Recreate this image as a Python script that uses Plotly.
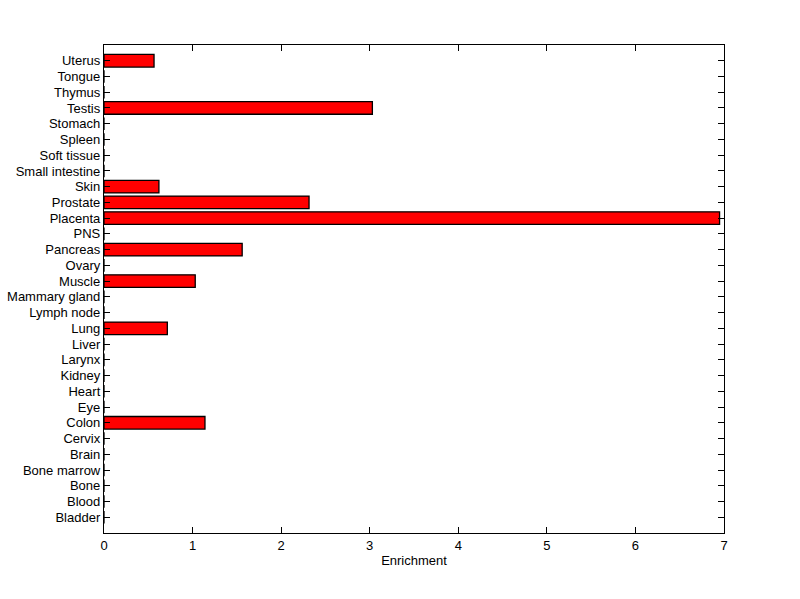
import plotly.graph_objects as go

tissues = ["Bladder", "Blood", "Bone", "Bone marrow", "Brain", "Cervix", "Colon", "Eye",
           "Heart", "Kidney", "Larynx", "Liver", "Lung", "Lymph node", "Mammary gland",
           "Muscle", "Ovary", "Pancreas", "PNS", "Placenta", "Prostate", "Skin",
           "Small intestine", "Soft tissue", "Spleen", "Stomach", "Testis", "Thymus",
           "Tongue", "Uterus"]
enrichment = [0, 0, 0, 0, 0, 0, 1.14, 0,
              0, 0, 0, 0, 0.715, 0, 0,
              1.03, 0, 1.56, 0, 6.95, 2.315, 0.62,
              0, 0, 0, 0, 3.03, 0,
              0, 0.565]
positions = list(range(1, len(tissues) + 1))
xticks = [0, 1, 2, 3, 4, 5, 6, 7]

fig = go.Figure(go.Bar(
    x=enrichment, y=positions, orientation="h", width=0.8,
    marker=dict(color="#ff0000", line=dict(color="black", width=1.3)),
))

font = dict(family="Liberation Sans, Arial, sans-serif", size=13, color="black")
fig.update_layout(
    width=800, height=599,
    margin=dict(l=104, r=76, t=45, b=66),
    paper_bgcolor="white", plot_bgcolor="white",
    font=font, showlegend=False,
    xaxis=dict(range=[0, 7], tickvals=xticks, ticks="inside", ticklen=6, tickcolor="black",
               tickwidth=1.3, automargin=False,
               showline=True, linecolor="black", linewidth=1.3, mirror="ticks",
               showgrid=False, zeroline=False,
               title=dict(text="Enrichment", standoff=4, font=font)),
    yaxis=dict(range=[0, 31], tickvals=positions, ticktext=tissues, ticks="inside",
               ticklen=6, tickcolor="black", tickwidth=1.3, automargin=False,
               showline=True, linecolor="black", linewidth=1.3,
               mirror="ticks", showgrid=False, zeroline=False),
)
fig.write_html("out.html", config={"displayModeBar": False},
               post_script="document.body.style.margin='0';")
